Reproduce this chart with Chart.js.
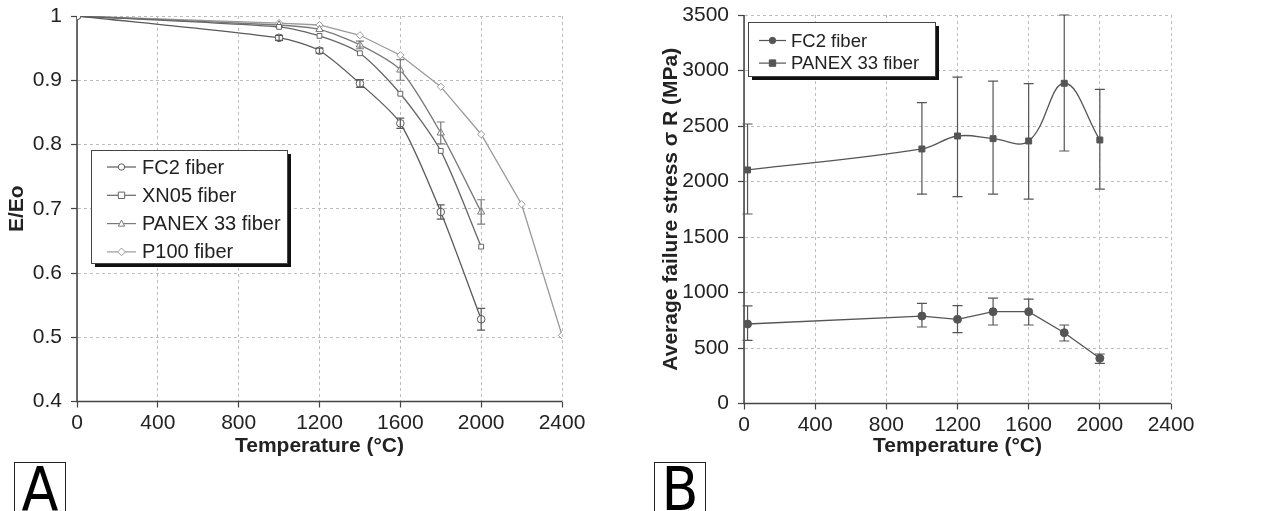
<!DOCTYPE html>
<html>
<head>
<meta charset="utf-8">
<script src="https://cdn.jsdelivr.net/npm/chart.js@4/dist/chart.umd.min.js"></script>
<style>
  body { margin: 0; background: #fff; width: 1268px; height: 511px; overflow: hidden; position: relative; }
  .panel { position: absolute; top: 0; height: 460px; }
  .tag { position: absolute; top: 462px; height: 60px; border: 1.5px solid #222; box-sizing: border-box;
         font-family: "Liberation Sans Narrow", "DejaVu Sans Condensed", sans-serif; font-size: 60px;
         line-height: 52px; text-align: center; color: #000; }
</style>
</head>
<body>
<div class="panel" style="left:0;width:600px"><canvas id="modulusChart"></canvas></div>
<div class="panel" style="left:640px;width:628px"><canvas id="stressChart"></canvas></div>
<div class="tag" style="left:14px;width:52px">A</div>
<div class="tag" style="left:654px;width:52px">B</div>
<script>
// Panel A - normalised modulus vs temperature
const tempA = [0, 1000, 1200, 1400, 1600, 1800, 2000];
const tempP100 = [0, 1000, 1200, 1400, 1600, 1800, 2000, 2200, 2400];
const fc2Modulus = [1, 0.966, 0.946, 0.895, 0.833, 0.695, 0.528];
const fc2ModulusErr = [0, 0.004, 0.004, 0.006, 0.008, 0.011, 0.017];
const xn05Modulus = [1, 0.983, 0.969, 0.942, 0.879, 0.790, 0.641];
const xn05ModulusErr = [0, 0, 0, 0, 0, 0, 0];
const panexModulus = [1, 0.986, 0.979, 0.955, 0.916, 0.818, 0.695];
const panexModulusErr = [0, 0, 0, 0.006, 0.016, 0.017, 0.019];
const p100Modulus = [1, 0.989, 0.986, 0.970, 0.939, 0.890, 0.816, 0.707, 0.503];

// Panel B - average failure stress vs temperature
const tempB = [20, 1000, 1200, 1400, 1600, 1800, 2000];
const fc2Stress = [716, 788, 758, 827, 827, 638, 407];
const fc2StressLow = [569, 689, 638, 707, 707, 563, 362];
const fc2StressHigh = [879, 902, 881, 950, 941, 707, 446];
const panexStress = [2104, 2293, 2410, 2386, 2365, 2885, 2374];
const panexStressLow = [1707, 1887, 1863, 1887, 1842, 2275, 1932];
const panexStressHigh = [2518, 2710, 2941, 2905, 2881, 3500, 2830];

const tempTicks = [0, 400, 800, 1200, 1600, 2000, 2400];

Chart.defaults.font.family = "'Liberation Sans', Arial, sans-serif";
Chart.defaults.color = "#222";

function points(xs, ys) {
  return ys.map((v, i) => ({ x: xs[i], y: v }));
}

// small marker painter used by the boxed legend
function drawMarker(ctx, style, x, y, r, fill, stroke) {
  ctx.save();
  ctx.fillStyle = fill;
  ctx.strokeStyle = stroke;
  ctx.lineWidth = 1;
  ctx.beginPath();
  if (style === "circle") {
    ctx.arc(x, y, r, 0, Math.PI * 2);
  } else if (style === "rect") {
    ctx.rect(x - r, y - r, r * 2, r * 2);
  } else if (style === "triangle") {
    ctx.moveTo(x, y - r * 1.1);
    ctx.lineTo(x + r, y + r * 0.8);
    ctx.lineTo(x - r, y + r * 0.8);
    ctx.closePath();
  } else if (style === "rectRot") {
    ctx.moveTo(x, y - r * 1.2);
    ctx.lineTo(x + r * 1.2, y);
    ctx.lineTo(x, y + r * 1.2);
    ctx.lineTo(x - r * 1.2, y);
    ctx.closePath();
  }
  ctx.fill();
  ctx.stroke();
  ctx.restore();
}

// solid left/bottom axis lines (grid lines are dashed)
const axisLines = {
  id: "axisLines",
  beforeDatasetsDraw(chart) {
    const { ctx, chartArea: a } = chart;
    ctx.save();
    ctx.strokeStyle = "#444";
    ctx.lineWidth = 1.5;
    ctx.beginPath();
    ctx.moveTo(a.left, a.top);
    ctx.lineTo(a.left, a.bottom);
    ctx.lineTo(a.right, a.bottom);
    ctx.stroke();
    ctx.restore();
  },
};

// vertical error bars with caps
const errorBars = {
  id: "errorBars",
  afterDatasetsDraw(chart, args, opts) {
    const { ctx, scales } = chart;
    chart.data.datasets.forEach((ds) => {
      if (!ds.errLow) return;
      ctx.save();
      ctx.strokeStyle = ds.borderColor;
      ctx.lineWidth = 1.2;
      ds.data.forEach((p, i) => {
        const lo = ds.errLow[i];
        const hi = ds.errHigh[i];
        if (lo === hi) return;
        const px = scales.x.getPixelForValue(p.x);
        const y1 = scales.y.getPixelForValue(lo);
        const y2 = scales.y.getPixelForValue(hi);
        const w = opts.cap || 4;
        ctx.beginPath();
        ctx.moveTo(px, y1);
        ctx.lineTo(px, y2);
        ctx.moveTo(px - w, y1);
        ctx.lineTo(px + w, y1);
        ctx.moveTo(px - w, y2);
        ctx.lineTo(px + w, y2);
        ctx.stroke();
      });
      ctx.restore();
    });
  },
};

// legend box with drop shadow, drawn inside the plot
const boxLegend = {
  id: "boxLegend",
  afterDraw(chart, args, o) {
    const ctx = chart.ctx;
    ctx.save();
    ctx.fillStyle = "#111";
    ctx.fillRect(o.x + 4, o.y + 4, o.w, o.h);
    ctx.fillStyle = "#fff";
    ctx.fillRect(o.x, o.y, o.w, o.h);
    ctx.strokeStyle = "#444";
    ctx.lineWidth = 1;
    ctx.strokeRect(o.x + 0.5, o.y + 0.5, o.w, o.h);
    ctx.font = o.size + "px 'Liberation Sans', Arial, sans-serif";
    ctx.textBaseline = "middle";
    chart.data.datasets.forEach((ds, i) => {
      const ry = o.y + o.first + i * o.step;
      ctx.strokeStyle = ds.borderColor;
      ctx.lineWidth = 1.2;
      ctx.beginPath();
      ctx.moveTo(o.x + o.lineFrom, ry);
      ctx.lineTo(o.x + o.lineTo, ry);
      ctx.stroke();
      drawMarker(ctx, ds.pointStyle, o.x + (o.lineFrom + o.lineTo) / 2, ry,
        o.marker, ds.pointBackgroundColor, ds.borderColor);
      ctx.fillStyle = "#222";
      ctx.fillText(ds.label, o.x + o.textX, ry + 1);
    });
    ctx.restore();
  },
};

function gridOpts() {
  return {
    color: "#bdbdbd",
    tickLength: 6,
    tickColor: "#444",
    tickBorderDash: [],
    tickWidth: 1.2,
  };
}

function borderOpts() {
  return { color: "#bdbdbd", width: 1, dash: [3, 3] };
}

function lineSet(label, data, color, style, extra) {
  return Object.assign({
    label: label,
    data: data,
    borderColor: color,
    borderWidth: 1.3,
    pointStyle: style,
    pointRadius: 3.8,
    pointBorderWidth: 1,
    pointBorderColor: color,
    pointBackgroundColor: "#fff",
    tension: 0.25,
  }, extra || {});
}

const plainTick = (v) => String(+v.toFixed(1));

function fitY(width) {
  return (s) => {
    s.width = width;
    s.paddingTop = 0;
    s.paddingBottom = 0;
  };
}

function initModulusChart() {
  const ctx = document.getElementById("modulusChart").getContext("2d");
  new Chart(ctx, {
    type: "line",
    data: {
      datasets: [
        lineSet("FC2 fiber", points(tempA, fc2Modulus), "#5a5a5a", "circle", {
          errLow: fc2Modulus.map((v, i) => v - fc2ModulusErr[i]),
          errHigh: fc2Modulus.map((v, i) => v + fc2ModulusErr[i]),
        }),
        lineSet("XN05 fiber", points(tempA, xn05Modulus), "#666", "rect", {
          pointRadius: 3.4,
          errLow: xn05Modulus.map((v, i) => v - xn05ModulusErr[i]),
          errHigh: xn05Modulus.map((v, i) => v + xn05ModulusErr[i]),
        }),
        lineSet("PANEX 33 fiber", points(tempA, panexModulus), "#7a7a7a", "triangle", {
          pointRadius: 4.2,
          errLow: panexModulus.map((v, i) => v - panexModulusErr[i]),
          errHigh: panexModulus.map((v, i) => v + panexModulusErr[i]),
        }),
        lineSet("P100 fiber", points(tempP100, p100Modulus), "#9a9a9a", "rectRot", {
          pointRadius: 3.6,
          tension: 0,
        }),
      ],
    },
    options: {
      responsive: true,
      maintainAspectRatio: false,
      animation: false,
      layout: { padding: { top: 16, right: 38, left: 0, bottom: 0 } },
      plugins: {
        legend: { display: false },
        tooltip: { enabled: false },
        errorBars: { cap: 4 },
        boxLegend: { x: 91, y: 150, w: 196, h: 113, first: 17, step: 28.3,
          lineFrom: 16, lineTo: 45, textX: 51, size: 20, marker: 3.2 },
      },
      scales: {
        x: {
          type: "linear",
          min: 0,
          max: 2400,
          afterBuildTicks: (s) => { s.ticks = tempTicks.map((v) => ({ value: v })); },
          afterFit: (s) => { s.height = 58.5; },
          grid: gridOpts(),
          border: borderOpts(),
          ticks: { font: { size: 21 }, padding: 3, color: "#222", callback: plainTick },
          title: { display: true, text: "Temperature (°C)", font: { size: 21, weight: "bold" },
            color: "#222", padding: { top: 0, bottom: 1 } },
        },
        y: {
          min: 0.4,
          max: 1,
          afterFit: fitY(77),
          grid: gridOpts(),
          border: borderOpts(),
          ticks: { stepSize: 0.1, font: { size: 21 }, padding: 9, color: "#222", callback: plainTick },
          title: { display: true, text: "E/Eo", font: { size: 21, weight: "bold" },
            color: "#222", padding: { top: 5, bottom: 0 } },
        },
      },
    },
    plugins: [axisLines, errorBars, boxLegend],
  });
}

function initStressChart() {
  const ctx = document.getElementById("stressChart").getContext("2d");
  new Chart(ctx, {
    type: "line",
    data: {
      datasets: [
        lineSet("FC2 fiber", points(tempB, fc2Stress), "#555", "circle", {
          pointRadius: 4,
          pointBackgroundColor: "#555",
          tension: 0,
          errLow: fc2StressLow,
          errHigh: fc2StressHigh,
        }),
        lineSet("PANEX 33 fiber", points(tempB, panexStress), "#555", "rect", {
          pointRadius: 4.2,
          pointBackgroundColor: "#555",
          tension: 0.4,
          errLow: panexStressLow,
          errHigh: panexStressHigh,
        }),
      ],
    },
    options: {
      responsive: true,
      maintainAspectRatio: false,
      animation: false,
      layout: { padding: { top: 15, right: 97, left: 15, bottom: 0 } },
      plugins: {
        legend: { display: false },
        tooltip: { enabled: false },
        errorBars: { cap: 5 },
        boxLegend: { x: 108, y: 22, w: 187, h: 54, first: 18.5, step: 22.6,
          lineFrom: 11, lineTo: 38, textX: 43, size: 18.5, marker: 3.2 },
      },
      scales: {
        x: {
          type: "linear",
          min: 0,
          max: 2400,
          afterBuildTicks: (s) => { s.ticks = tempTicks.map((v) => ({ value: v })); },
          afterFit: (s) => { s.height = 56.5; },
          grid: gridOpts(),
          border: borderOpts(),
          ticks: { font: { size: 21 }, padding: 3, color: "#222", callback: plainTick },
          title: { display: true, text: "Temperature (°C)", font: { size: 21, weight: "bold" },
            color: "#222", padding: { top: 0, bottom: 1 } },
        },
        y: {
          min: 0,
          max: 3500,
          afterFit: fitY(89),
          grid: gridOpts(),
          border: borderOpts(),
          ticks: { stepSize: 500, font: { size: 21 }, padding: 9, color: "#222", callback: plainTick },
          title: { display: true, text: "Average failure stress σ R (MPa)",
            font: { size: 21, weight: "bold" }, color: "#222", padding: { top: 4, bottom: 0 } },
        },
      },
    },
    plugins: [axisLines, errorBars, boxLegend],
  });
}

initModulusChart();
initStressChart();
</script>
</body>
</html>
